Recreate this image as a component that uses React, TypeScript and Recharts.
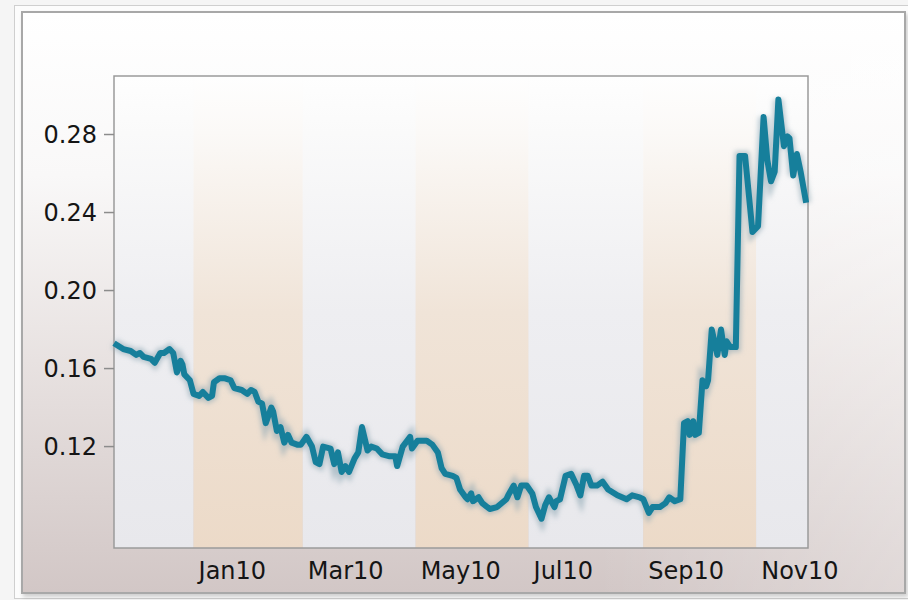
import { LineChart, Line, XAxis, YAxis, ReferenceArea } from 'recharts'

const dates = [
  '2009-11-19', '2009-11-24', '2009-11-28', '2009-12-01', '2009-12-03', '2009-12-05', '2009-12-09', '2009-12-11', '2009-12-14', '2009-12-16',
  '2009-12-19', '2009-12-21', '2009-12-23', '2009-12-25', '2009-12-26', '2009-12-27', '2009-12-30', '2010-01-01', '2010-01-04', '2010-01-06',
  '2010-01-09', '2010-01-11', '2010-01-12', '2010-01-15', '2010-01-18', '2010-01-21', '2010-01-23', '2010-01-27', '2010-01-30', '2010-02-01',
  '2010-02-03', '2010-02-05', '2010-02-07', '2010-02-09', '2010-02-12', '2010-02-13', '2010-02-15', '2010-02-17', '2010-02-19', '2010-02-21',
  '2010-02-23', '2010-02-26', '2010-02-28', '2010-03-03', '2010-03-06', '2010-03-08', '2010-03-10', '2010-03-12', '2010-03-16', '2010-03-18',
  '2010-03-20', '2010-03-22', '2010-03-24', '2010-03-26', '2010-03-29', '2010-03-31', '2010-04-02', '2010-04-05', '2010-04-07', '2010-04-10',
  '2010-04-13', '2010-04-17', '2010-04-20', '2010-04-21', '2010-04-24', '2010-04-28', '2010-04-29', '2010-05-02', '2010-05-07', '2010-05-10',
  '2010-05-13', '2010-05-15', '2010-05-17', '2010-05-21', '2010-05-23', '2010-05-25', '2010-05-28', '2010-05-29', '2010-05-31', '2010-06-01',
  '2010-06-04', '2010-06-06', '2010-06-10', '2010-06-14', '2010-06-19', '2010-06-20', '2010-06-23', '2010-06-25', '2010-06-27', '2010-06-30',
  '2010-07-03', '2010-07-05', '2010-07-08', '2010-07-10', '2010-07-12', '2010-07-15', '2010-07-16', '2010-07-18', '2010-07-21', '2010-07-24',
  '2010-07-27', '2010-07-29', '2010-07-31', '2010-08-02', '2010-08-04', '2010-08-07', '2010-08-10', '2010-08-13', '2010-08-18', '2010-08-23',
  '2010-08-26', '2010-08-30', '2010-09-01', '2010-09-04', '2010-09-06', '2010-09-10', '2010-09-13', '2010-09-15', '2010-09-18', '2010-09-21',
  '2010-09-23', '2010-09-25', '2010-09-26', '2010-09-28', '2010-09-29', '2010-10-01', '2010-10-03', '2010-10-05', '2010-10-06', '2010-10-08',
  '2010-10-11', '2010-10-13', '2010-10-15', '2010-10-16', '2010-10-18', '2010-10-21', '2010-10-23', '2010-10-26', '2010-10-30', '2010-11-02',
  '2010-11-05', '2010-11-07', '2010-11-09', '2010-11-11', '2010-11-13', '2010-11-16', '2010-11-18', '2010-11-19', '2010-11-21', '2010-11-23',
  '2010-11-25', '2010-11-28',
]

const values = [
  0.173, 0.170, 0.169, 0.167, 0.168, 0.166, 0.165, 0.163, 0.168, 0.168,
  0.170, 0.168, 0.158, 0.164, 0.162, 0.157, 0.154, 0.147, 0.146, 0.148,
  0.145, 0.146, 0.153, 0.155, 0.155, 0.154, 0.150, 0.149, 0.147, 0.149,
  0.148, 0.143, 0.142, 0.132, 0.140, 0.138, 0.128, 0.130, 0.122, 0.126,
  0.122, 0.121, 0.121, 0.125, 0.120, 0.112, 0.111, 0.120, 0.119, 0.111,
  0.117, 0.107, 0.110, 0.107, 0.114, 0.117, 0.130, 0.118, 0.120, 0.119,
  0.116, 0.115, 0.115, 0.110, 0.120, 0.125, 0.119, 0.123, 0.123, 0.121,
  0.117, 0.109, 0.106, 0.105, 0.104, 0.098, 0.094, 0.093, 0.096, 0.092,
  0.094, 0.091, 0.088, 0.089, 0.093, 0.095, 0.100, 0.094, 0.100, 0.100,
  0.096, 0.089, 0.083, 0.090, 0.094, 0.089, 0.092, 0.093, 0.105, 0.106,
  0.100, 0.095, 0.105, 0.105, 0.100, 0.100, 0.102, 0.098, 0.095, 0.093,
  0.095, 0.094, 0.093, 0.086, 0.089, 0.089, 0.091, 0.094, 0.092, 0.093,
  0.132, 0.133, 0.126, 0.133, 0.126, 0.127, 0.154, 0.151, 0.154, 0.180,
  0.167, 0.180, 0.167, 0.174, 0.171, 0.171, 0.269, 0.269, 0.230, 0.233,
  0.289, 0.267, 0.256, 0.261, 0.298, 0.274, 0.279, 0.278, 0.259, 0.270,
  0.261, 0.245,
]

const tickDates = ['2010-01-01', '2010-03-01', '2010-05-01', '2010-07-01', '2010-09-01', '2010-11-01']
const tickLabels = ['Jan10', 'Mar10', 'May10', 'Jul10', 'Sep10', 'Nov10']
const yTicks = [0.12, 0.16, 0.2, 0.24, 0.28]

const xStart = Date.parse('2009-11-19')
const xEnd = Date.parse('2010-11-29')
const yDomain = [0.068, 0.31]

const FONT = '"DejaVu Sans", sans-serif'

const data = dates.map((d, i) => ({ t: Date.parse(d), v: values[i] }))
const ticks = tickDates.map((d) => Date.parse(d))

// alternating two-month bands
const edges = [xStart, ...ticks, xEnd]
const bands = edges.slice(0, -1).map((x1, i) => ({ x1, x2: edges[i + 1], beige: i % 2 === 1 }))

function MonthTick(props: any) {
  const { x, y, payload } = props
  const i = ticks.indexOf(payload.value)
  return (
    <text x={x + 5} y={y + 31} textAnchor="start" fontSize={24} fontFamily={FONT} fill="#151515">
      {tickLabels[i]}
    </text>
  )
}

export default function App() {
  return (
    <div style={{ position: 'fixed', left: 0, top: 0, width: 908, height: 600, background: '#f5f5f5', overflow: 'hidden' }}>
      <div style={{ position: 'absolute', left: 14, top: 5, width: 900, height: 594, border: '1px solid #cfcfcf', background: '#fcfcfc', boxSizing: 'border-box' }} />
      <div
        style={{
          position: 'absolute', left: 21, top: 11, width: 885, height: 583, boxSizing: 'border-box',
          border: '2px solid #a8a8a8',
          boxShadow: '2px 3px 4px rgba(0,0,0,0.18)',
          background: 'linear-gradient(to right, rgba(255,255,255,0) 65%, rgba(255,255,255,0.3) 100%), linear-gradient(to bottom, #ffffff 0%, #f9f8f8 28%, #e8e2e1 60%, #d2c7c6 100%)',
        }}
      />
      <div style={{ position: 'absolute', left: 0, top: 0 }}>
        <LineChart width={908} height={600} data={data} margin={{ top: 76, right: 100, left: 0, bottom: 0 }}>
          <defs>
            <linearGradient id="beigeBand" x1="0" y1="0" x2="0" y2="1">
              <stop offset="0%" stopColor="#fefefe" />
              <stop offset="12%" stopColor="#fbf9f7" />
              <stop offset="50%" stopColor="#f0e4d8" />
              <stop offset="100%" stopColor="#ecdac8" />
            </linearGradient>
            <linearGradient id="grayBand" x1="0" y1="0" x2="0" y2="1">
              <stop offset="0%" stopColor="#fefefe" />
              <stop offset="12%" stopColor="#fafafa" />
              <stop offset="50%" stopColor="#eeeef1" />
              <stop offset="100%" stopColor="#e8e8ec" />
            </linearGradient>
            <filter id="glow" x="-10%" y="-10%" width="120%" height="120%">
              <feGaussianBlur stdDeviation="2.5" />
            </filter>
          </defs>
          <XAxis
            dataKey="t"
            type="number"
            domain={[xStart, xEnd]}
            ticks={ticks}
            tick={<MonthTick />}
            tickSize={0}
            tickMargin={0}
            axisLine={false}
            height={52}
            interval={0}
          />
          <YAxis
            type="number"
            domain={yDomain}
            ticks={yTicks}
            tickFormatter={(v: number) => v.toFixed(2)}
            width={114}
            axisLine={false}
            tickLine={{ stroke: '#8c8c8c', strokeWidth: 1.5 }}
            tickSize={10}
            tickMargin={7}
            tick={{ fontSize: 24, fontFamily: FONT, fill: '#151515' }}
            interval={0}
          />
          {bands.map((b, i) => (
            <ReferenceArea
              key={i}
              x1={b.x1}
              x2={b.x2}
              y1={yDomain[0]}
              y2={yDomain[1]}
              fill={b.beige ? 'url(#beigeBand)' : 'url(#grayBand)'}
              fillOpacity={1}
              stroke="none"
            />
          ))}
          <ReferenceArea x1={xStart} x2={xEnd} y1={yDomain[0]} y2={yDomain[1]} fill="none" stroke="#9a9a9a" strokeWidth={1.5} />
          <Line
            dataKey="v"
            type="linear"
            stroke="#8fa9b4"
            strokeOpacity={0.6}
            strokeWidth={10}
            dot={false}
            activeDot={false}
            filter="url(#glow)"
            isAnimationActive={false}
          />
          <Line
            dataKey="v"
            type="linear"
            stroke="#167f9b"
            strokeWidth={6}
            strokeLinejoin="round"
            dot={false}
            activeDot={false}
            isAnimationActive={false}
          />
        </LineChart>
      </div>
    </div>
  )
}
